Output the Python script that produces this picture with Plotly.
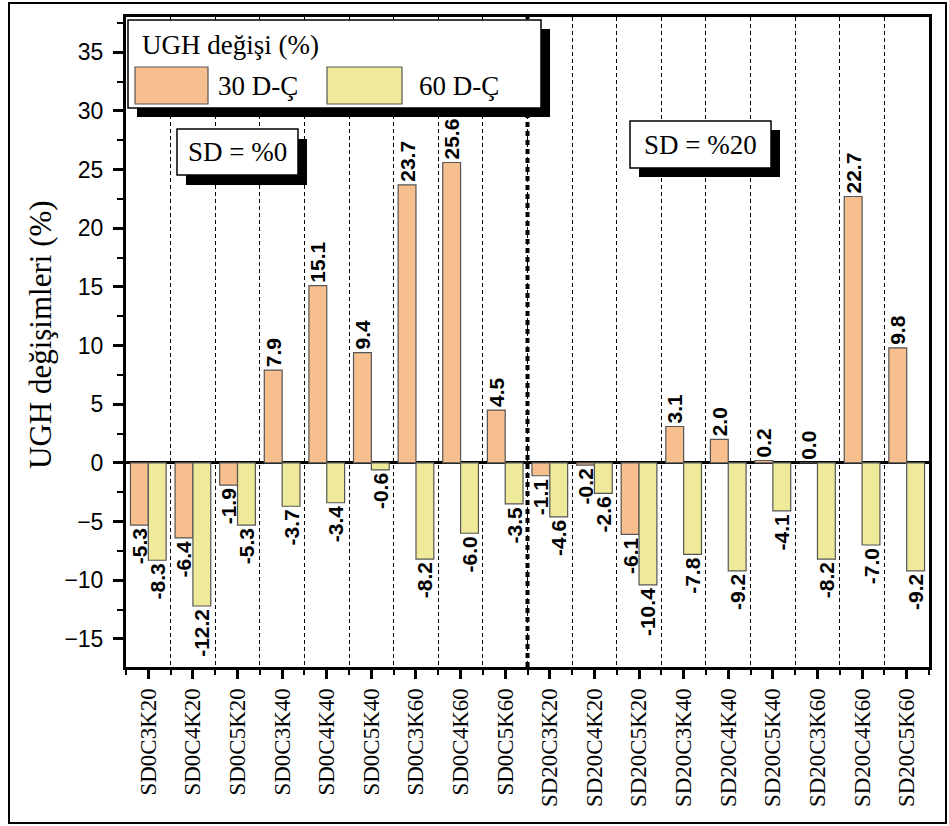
import plotly.graph_objects as go

categories = ["SD0C3K20", "SD0C4K20", "SD0C5K20", "SD0C3K40", "SD0C4K40", "SD0C5K40",
              "SD0C3K60", "SD0C4K60", "SD0C5K60",
              "SD20C3K20", "SD20C4K20", "SD20C5K20", "SD20C3K40", "SD20C4K40", "SD20C5K40",
              "SD20C3K60", "SD20C4K60", "SD20C5K60"]
series_names = ["30 D-Ç", "60 D-Ç"]
values_30 = [-5.3, -6.4, -1.9, 7.9, 15.1, 9.4, 23.7, 25.6, 4.5,
             -1.1, -0.2, -6.1, 3.1, 2.0, 0.2, 0.0, 22.7, 9.8]
values_60 = [-8.3, -12.2, -5.3, -3.7, -3.4, -0.6, -8.2, -6.0, -3.5,
             -4.6, -2.6, -10.4, -7.8, -9.2, -4.1, -8.2, -7.0, -9.2]
colors = ["#F8BF8E", "#EFEA9A"]
legend_title = "UGH değişi (%)"
y_title = "UGH değişimleri (%)"
group_labels = ["SD = %0", "SD = %20"]
n_group1 = 9

W, H = 949, 826
L, R, T, B = 126, 929, 17, 667

def px(x):
    return (x - L) / (R - L)

def py(y):
    return (B - y) / (B - T)

xs = list(range(len(categories)))
fig = go.Figure()
for name, vals, col in zip(series_names, [values_30, values_60], colors):
    fig.add_trace(go.Bar(
        x=xs, y=vals, name=name,
        marker=dict(color=col, line=dict(color="#555555", width=1.2)),
        text=[f"{v:.1f}" for v in vals],
        textposition="outside", textangle=-90,
        constraintext="none", cliponaxis=False,
        textfont=dict(family="Liberation Sans", size=21, color="black", weight="bold"),
        showlegend=False,
    ))

shapes = []
# group separator
shapes.append(dict(type="line", xref="x", yref="paper", x0=n_group1 - 0.5, x1=n_group1 - 0.5,
                   y0=0, y1=1, line=dict(color="black", width=4, dash="5px,4px"), layer="above"))

def box(x0, y0, x1, y1, sx, sy):
    shapes.append(dict(type="rect", xref="paper", yref="paper",
                       x0=px(x0 + sx), x1=px(x1 + sx), y0=py(y1 + sy), y1=py(y0 + sy),
                       fillcolor="black", line=dict(width=0), layer="above"))
    shapes.append(dict(type="rect", xref="paper", yref="paper",
                       x0=px(x0), x1=px(x1), y0=py(y1), y1=py(y0),
                       fillcolor="white", line=dict(color="black", width=1.5), layer="above"))

# legend box
box(128, 20, 541, 108, 9, 9)
# group label boxes
box(177, 129, 298, 175, 9, 10)
box(630, 121, 771, 168, 9, 9)

# legend swatches
sw = [(135, 208), (327, 402)]
for (a, b), col in zip(sw, colors):
    shapes.append(dict(type="rect", xref="paper", yref="paper",
                       x0=px(a), x1=px(b), y0=py(104), y1=py(67),
                       fillcolor=col, line=dict(color="#555555", width=1.2), layer="above"))

# outer frame
shapes.append(dict(type="rect", xref="paper", yref="paper",
                   x0=px(9), x1=px(946), y0=py(823), y1=py(3),
                   line=dict(color="black", width=2), fillcolor="rgba(0,0,0,0)", layer="above"))

serif = "Liberation Serif"
annotations = [
    dict(text=legend_title, x=px(140), y=py(45), xref="paper", yref="paper",
         xanchor="left", yanchor="middle", showarrow=False,
         font=dict(family=serif, size=27, color="black")),
    dict(text=series_names[0], x=px(216), y=py(86), xref="paper", yref="paper",
         xanchor="left", yanchor="middle", showarrow=False,
         font=dict(family=serif, size=27, color="black")),
    dict(text=series_names[1], x=px(417), y=py(86), xref="paper", yref="paper",
         xanchor="left", yanchor="middle", showarrow=False,
         font=dict(family=serif, size=27, color="black")),
    dict(text=group_labels[0], x=px(237), y=py(152), xref="paper", yref="paper",
         xanchor="center", yanchor="middle", showarrow=False,
         font=dict(family=serif, size=27, color="black")),
    dict(text=group_labels[1], x=px(700), y=py(145), xref="paper", yref="paper",
         xanchor="center", yanchor="middle", showarrow=False,
         font=dict(family=serif, size=27, color="black")),
    dict(text=y_title, x=px(40), y=py(335), xref="paper", yref="paper",
         xanchor="center", yanchor="middle", showarrow=False, textangle=-90,
         font=dict(family=serif, size=31, color="black")),
]

fig.update_layout(
    width=W, height=H,
    margin=dict(l=L, r=W - R, t=T, b=H - B),
    paper_bgcolor="white", plot_bgcolor="white",
    barmode="group", bargap=0.2, bargroupgap=0,
    shapes=shapes, annotations=annotations,
    showlegend=False,
)
fig.update_xaxes(
    range=[-0.5, len(categories) - 0.5],
    tickmode="array", tickvals=xs, ticktext=categories, tickangle=-90,
    ticks="outside", ticklen=9, tickwidth=3, tickcolor="black",
    tickfont=dict(family=serif, size=23, color="black"),
    showline=True, linewidth=3, linecolor="black", mirror=True,
    showgrid=False, zeroline=False,
    minor=dict(tickmode="linear", tick0=0.5, dtick=1, ticks="outside", ticklen=5,
               tickwidth=2, tickcolor="black", showgrid=True, gridcolor="black",
               gridwidth=1, griddash="4px,3px"),
)
fig.update_yaxes(
    range=[-17.4, 38.0], tickmode="linear", tick0=0, dtick=5,
    ticks="outside", ticklen=10, tickwidth=3, tickcolor="black",
    tickfont=dict(family="Liberation Sans", size=23, color="black"),
    ticklabelstandoff=5,
    showline=True, linewidth=3, linecolor="black", mirror=True,
    showgrid=False, zeroline=True, zerolinecolor="black", zerolinewidth=3,
    minor=dict(tickmode="linear", tick0=0, dtick=2.5, ticks="outside", ticklen=6,
               tickwidth=2, tickcolor="black", showgrid=False),
)

fig.write_html("out.html", config={"displayModeBar": False},
               post_script="document.body.style.margin='0';")
